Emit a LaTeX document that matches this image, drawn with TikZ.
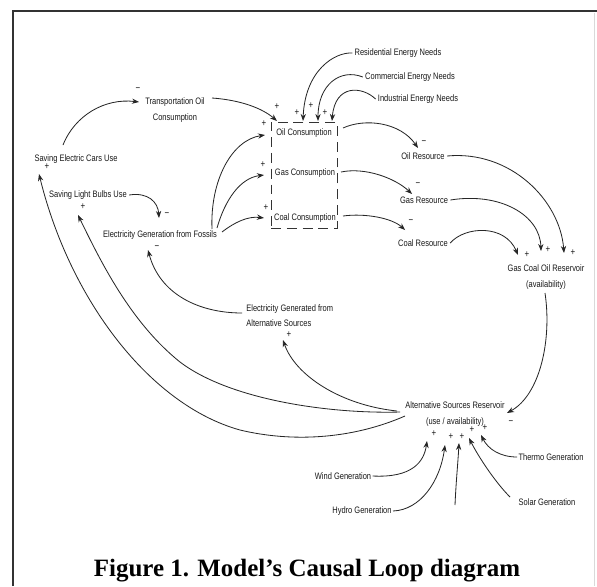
\documentclass[tikz,border=0pt]{standalone}
\usepackage{fontspec}
\newfontfamily\varfont[FakeStretch=0.8]{Liberation Sans}
\newfontfamily\capfont{Liberation Serif}
\usetikzlibrary{calc,arrows.meta}
\begin{document}
\begin{tikzpicture}[x=0.03cm,y=-0.03cm,
  var/.style={font=\varfont\fontsize{8}{13}\selectfont, text=black!90, inner sep=1pt, align=center},
  link/.style={draw=black!85, line width=0.7pt, -{Stealth[length=6pt,width=4.5pt]}},
  pol/.style={font=\varfont\fontsize{8.5}{9}\selectfont, text=black!90, inner sep=0pt},
  groupbox/.style={draw=black!80, line width=0.75pt, dash pattern=on 8.5pt off 5pt, inner sep=0pt, outer sep=0pt, minimum width=1.98cm, minimum height=3.18cm}]
\useasboundingbox (0,0) rectangle (597,586);
\fill[white] (0,0) rectangle (597,586);
% frame
\draw[line width=2.4pt, black!80] (13,586) -- (13,11) -- (597,11);
\draw[line width=0.8pt, black!15] (594,13) -- (594,586);

% variables
\node[var] (tr) at (175,110) {Transportation Oil\\Consumption};
\node[var] (sec) at (76,159) {Saving Electric Cars Use};
\node[var] (slb) at (88,195) {Saving Light Bulbs Use};
\node[var] (egf) at (160,235) {Electricity Generation from Fossils};
\node[var] (oilc) at (304,133) {Oil Consumption};
\node[var] (gasc) at (305,173) {Gas Consumption};
\node[var] (coalc) at (305,218) {Coal Consumption};
\node[groupbox] (box) at (304,175) {};
\node[var] (rn) at (398,53) {Residential Energy Needs};
\node[var] (cn) at (410,77) {Commercial Energy Needs};
\node[var] (ind) at (418,99) {Industrial Energy Needs};
\node[var] (oilr) at (423,156) {Oil Resource};
\node[var] (gasr) at (424,200) {Gas Resource};
\node[var] (coalr) at (423,243) {Coal Resource};
\node[var] (gcor) at (546,277) {Gas Coal Oil Reservoir\\(availability)};
\node[var] (asr) at (455,414) {Alternative Sources Reservoir\\(use / availability)};
\node[var, anchor=west, align=left] (ega) at (245,316) {Electricity Generated from\\Alternative Sources};
\node[var] (wind) at (343,476) {Wind Generation};
\node[var] (hydro) at (362,511) {Hydro Generation};
\node[var] (solar) at (547,502) {Solar Generation};
\node[var] (thermo) at (551,457) {Thermo Generation};
\coordinate (src) at (455,505);

% links
\draw[link] ($(sec.center)+(-13,-14)$) .. controls (75,115) and (105,98) .. ($(tr.center)+(-36,-8)$);
\draw[link] ($(tr.center)+(37,-12)$) .. controls (240,100) and (262,108) .. ($(box.north west)+(6,-1)$);
\draw[link] ($(rn.west)+(-1,0)$) .. controls (335,52) and (305,70) .. ($(box.north)+(-1,-1)$);
\draw[link] ($(cn.west)+(-1,0)$) .. controls (340,68) and (318,85) .. ($(box.north)+(14,-1)$);
\draw[link] ($(ind.west)+(-1,0)$) .. controls (362,86) and (335,84) .. ($(box.north)+(28,-1)$);

\draw[link] ($(egf.center)+(52,-6)$) .. controls (210,180) and (232,140) .. ($(oilc.center)+(-39,2)$);
\draw[link] ($(egf.center)+(57,-7)$) .. controls (225,200) and (240,178) .. ($(gasc.center)+(-41,2)$);
\draw[link] ($(egf.center)+(62,-3)$) .. controls (235,222) and (248,216) .. ($(coalc.center)+(-41,0)$);

\draw[link] ($(oilc.center)+(39,-5)$) .. controls (365,118) and (400,122) .. ($(oilr.center)+(-5,-8)$);
\draw[link] ($(gasc.center)+(36,-1)$) .. controls (365,167) and (395,178) .. ($(gasr.center)+(-12,-6)$);
\draw[link] ($(coalc.center)+(38,-2)$) .. controls (365,213) and (392,218) .. ($(coalr.center)+(-18,-13)$);

\draw[link] ($(oilr.east)+(1,0)$) .. controls (510,150) and (560,200) .. ($(gcor.center)+(18,-24)$);
\draw[link] ($(gasr.east)+(1,0)$) .. controls (500,192) and (540,215) .. ($(gcor.center)+(-5,-26)$);
\draw[link] ($(coalr.east)+(1,0)$) .. controls (465,226) and (505,224) .. ($(gcor.center)+(-28,-22)$);

\draw[link] ($(gcor.center)+(-1,16)$) .. controls (552,340) and (540,395) .. ($(asr.center)+(52,-1)$);

\draw[link] ($(asr.center)+(-58,-3)$) .. controls (340,405) and (295,375) .. ($(ega.west)+(38,24)$);
\draw[link] ($(asr.center)+(-55,-2)$) .. controls (330,414) and (230,400) .. (180,362) .. controls (130,322) and (100,260) .. ($(slb.center)+(-10,20)$);
\draw[link] ($(asr.center)+(-50,2)$) .. controls (350,440) and (290,442) .. (240,430) .. controls (150,405) and (70,300) .. ($(sec.center)+(-37,15)$);

\draw[link] ($(ega.west)+(-3,-3)$) .. controls (200,313) and (160,295) .. ($(egf.center)+(-12,15)$);
\draw[link] ($(slb.east)+(1,0)$) .. controls (148,192) and (158,202) .. ($(egf.center)+(-1,-17)$);

\draw[link] (wind.east) .. controls (412,478) and (424,462) .. ($(asr.center)+(-28,27)$);
\draw[link] (hydro.east) .. controls (420,510) and (440,482) .. ($(asr.center)+(-10,31)$);
\draw[link] (src) .. controls (456,482) and (458,462) .. ($(asr.center)+(4,29)$);
\draw[link] ($(solar.center)+(-37,-5)$) .. controls (495,482) and (478,456) .. ($(asr.center)+(14,24)$);
\draw[link] (thermo.west) .. controls (500,457) and (488,449) .. ($(asr.center)+(26,21)$);

% polarities
\node[pol] (p1) at (138,90) {−};
\node[pol] (p2) at (277,107) {+};
\node[pol] (p3) at (297,113) {+};
\node[pol] (p4) at (311,106) {+};
\node[pol] (p5) at (325,113) {+};
\node[pol] (p6) at (264,124) {+};
\node[pol] (p7) at (263,165) {+};
\node[pol] (p8) at (266,208) {+};
\node[pol] (p9) at (424,143) {−};
\node[pol] (p10) at (418,185) {−};
\node[pol] (p11) at (411,222) {−};
\node[pol] (p12) at (527,255) {+};
\node[pol] (p13) at (548,250) {+};
\node[pol] (p14) at (573,253) {+};
\node[pol] (p15) at (511,423) {−};
\node[pol] (p16) at (289,335) {+};
\node[pol] (p17) at (83,207) {+};
\node[pol] (p18) at (47,167) {+};
\node[pol] (p19) at (157,248) {−};
\node[pol] (p20) at (167,215) {−};
\node[pol] (p21) at (434,434) {+};
\node[pol] (p22) at (451,437) {+};
\node[pol] (p23) at (462,437) {+};
\node[pol] (p24) at (472,430) {+};
\node[pol] (p25) at (485,428) {+};

% caption
\node[font=\capfont\bfseries\fontsize{21.3}{24}\selectfont, anchor=base, inner sep=0pt] (cap) at (307,576) {Figure 1. Model’s Causal Loop diagram};
\end{tikzpicture}
\end{document}
